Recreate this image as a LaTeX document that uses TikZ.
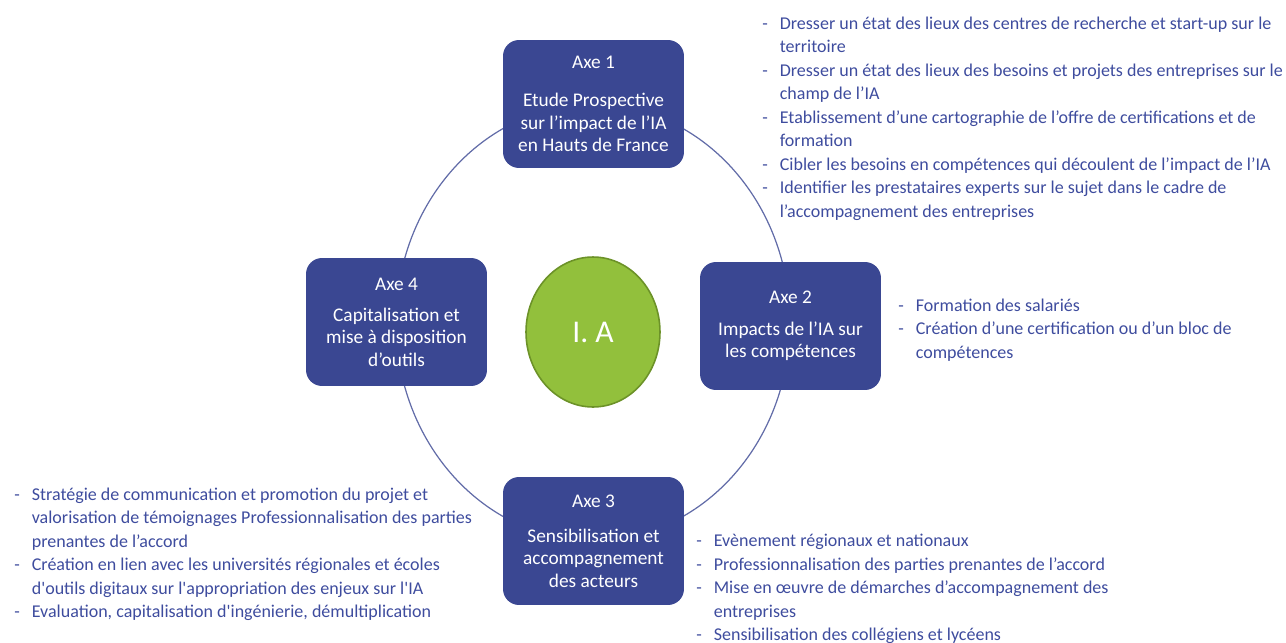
\documentclass[tikz,border=0pt]{standalone}
\usepackage{fontspec}
\setmainfont{Carlito}
\usetikzlibrary{positioning,shapes.geometric}
\definecolor{axeblue}{RGB}{58,71,146}
\definecolor{listblue}{RGB}{62,76,158}
\definecolor{iagreen}{RGB}{146,192,60}
\definecolor{iaborder}{RGB}{108,146,40}
\definecolor{ringblue}{RGB}{98,108,168}
\tikzset{
  every node/.style={
    align=center,
    draw=none,
  },
  axe/.style={
    fill=axeblue, text=white, rounded corners=0.32cm,
    minimum width=3.62cm, minimum height=2.56cm, inner sep=0pt,
    font=\fontsize{11}{12.8}\selectfont,
  },
  actions/.style={
    text=listblue, anchor=base west, inner sep=0pt, align=left,
    font=\fontsize{10.25}{13.4}\selectfont,
  },
}
\newenvironment{tirets}{\begin{tabular}[t]{@{}p{0.35cm}@{}l@{}}}{\end{tabular}}

\begin{document}
\begin{tikzpicture}[x=0.02cm,y=-0.02cm]
    \useasboundingbox (0,0) rectangle (1286,643) ;
    \coordinate (hub) at (593,322.5) ;
    \draw[ringblue, line width=0.7pt] (hub) ellipse [x radius=3.94cm, y radius=4.36cm] ;
    % the four axes
    \node[axe] (axe1) at (593.5,104) {Axe 1\\[9pt] Etude Prospective\\ sur l'impact de l'IA\\ en Hauts de France} ;
    \node[axe] (axe2) at (790.5,326) {Axe 2\\[5pt] Impacts de l'IA sur\\ les compétences} ;
    \node[axe] (axe3) at (593.5,541) {Axe 3\\[7pt] Sensibilisation et\\ accompagnement\\ des acteurs} ;
    \node[axe] (axe4) at (396.5,322) {Axe 4\\[5pt] Capitalisation et\\ mise à disposition\\ d'outils} ;
    \node[ellipse, draw=iaborder, fill=iagreen, line width=0.9pt, minimum width=2.68cm,
      minimum height=3cm, inner sep=0pt, text=white, font=\fontsize{18}{20}\selectfont]
      (ia) at (593,332) {I. A} ;
    % actions
    \node[actions] (todo1) at (762,29) {\begin{tirets}
      - & Dresser un état des lieux des centres de recherche et start-up sur le\\
        & territoire\\
      - & Dresser un état des lieux des besoins et projets des entreprises sur le\\
        & champ de l'IA\\
      - & Etablissement d'une cartographie de l'offre de certifications et de\\
        & formation\\
      - & Cibler les besoins en compétences qui découlent de l'impact de l'IA\\
      - & Identifier les prestataires experts sur le sujet dans le cadre de\\
        & l'accompagnement des entreprises
    \end{tirets}} ;
    \node[actions] (todo2) at (898,311) {\begin{tirets}
      - & Formation des salariés\\
      - & Création d'une certification ou d'un bloc de\\
        & compétences
    \end{tirets}} ;
    \node[actions] (todo3) at (696,546.5) {\begin{tirets}
      - & Evènement régionaux et nationaux\\
      - & Professionnalisation des parties prenantes de l'accord\\
      - & Mise en œuvre de démarches d'accompagnement des\\
        & entreprises\\
      - & Sensibilisation des collégiens et lycéens
    \end{tirets}} ;
    \node[actions] (todo4) at (14,500) {\begin{tirets}
      - & Stratégie de communication et promotion du projet et\\
        & valorisation de témoignages Professionnalisation des parties\\
        & prenantes de l'accord\\
      - & Création en lien avec les universités régionales et écoles\\
        & d\textquotesingle outils digitaux sur l\textquotesingle appropriation des enjeux sur l\textquotesingle IA\\
      - & Evaluation, capitalisation d\textquotesingle ingénierie, démultiplication
    \end{tirets}} ;
\end{tikzpicture}
\end{document}
